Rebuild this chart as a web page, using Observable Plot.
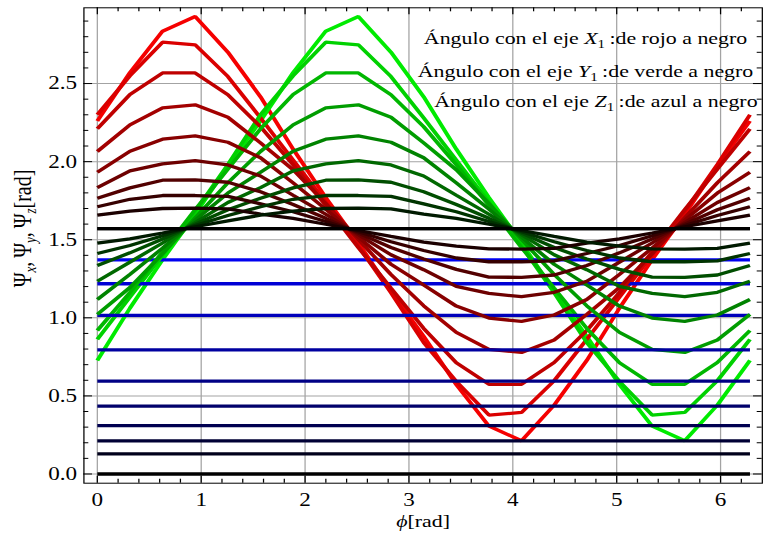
<!DOCTYPE html>
<html><head><meta charset="utf-8">
<script src="https://cdn.jsdelivr.net/npm/d3@7"></script>
<script src="https://cdn.jsdelivr.net/npm/@observablehq/plot@0.6"></script>
<style>body{margin:0;background:#fff}#chart{width:765px;height:539px;overflow:hidden}</style>
</head><body><div id="chart"></div>
<script>
// x samples (phi in rad)
const phi = [0, 0.314, 0.628, 0.942, 1.257, 1.571, 1.885, 2.199, 2.513, 2.827, 3.142, 3.456, 3.770, 4.084, 4.398, 4.712, 5.027, 5.341, 5.655, 5.969, 6.283];

// angle with X axis (red -> black)
const psiX0 = [2.26, 2.57, 2.835, 2.929, 2.701, 2.415, 2.08, 1.77, 1.48, 1.17, 0.882, 0.572, 0.307, 0.213, 0.441, 0.727, 1.062, 1.372, 1.662, 1.972, 2.26];
const psiX1 = [2.30, 2.55, 2.765, 2.748, 2.545, 2.28, 2.01, 1.74, 1.46, 1.16, 0.842, 0.592, 0.377, 0.394, 0.597, 0.862, 1.132, 1.402, 1.682, 1.982, 2.30];
const psiX2 = [2.21, 2.43, 2.568, 2.568, 2.428, 2.223, 1.98, 1.72, 1.45, 1.19, 0.932, 0.712, 0.574, 0.574, 0.714, 0.919, 1.162, 1.422, 1.692, 1.952, 2.21];
const psiX3 = [2.065, 2.235, 2.344, 2.364, 2.284, 2.12, 1.948, 1.732, 1.501, 1.277, 1.077, 0.907, 0.798, 0.778, 0.858, 1.022, 1.194, 1.41, 1.641, 1.865, 2.065];
const psiX4 = [1.932, 2.067, 2.144, 2.165, 2.124, 2.025, 1.864, 1.696, 1.517, 1.343, 1.21, 1.075, 0.998, 0.977, 1.018, 1.117, 1.278, 1.446, 1.625, 1.799, 1.932];
const psiX5 = [1.834, 1.941, 1.986, 2.007, 1.979, 1.908, 1.785, 1.663, 1.532, 1.404, 1.308, 1.201, 1.156, 1.135, 1.163, 1.234, 1.357, 1.479, 1.61, 1.738, 1.834];
const psiX6 = [1.766, 1.832, 1.881, 1.883, 1.868, 1.807, 1.726, 1.637, 1.542, 1.45, 1.376, 1.31, 1.261, 1.259, 1.274, 1.335, 1.416, 1.505, 1.60, 1.692, 1.766];
const psiX7 = [1.711, 1.759, 1.783, 1.783, 1.777, 1.73, 1.679, 1.617, 1.551, 1.487, 1.431, 1.383, 1.359, 1.359, 1.365, 1.412, 1.463, 1.525, 1.591, 1.655, 1.711];
const psiX8 = [1.657, 1.683, 1.70, 1.702, 1.698, 1.664, 1.636, 1.599, 1.559, 1.521, 1.485, 1.459, 1.442, 1.44, 1.444, 1.478, 1.506, 1.543, 1.583, 1.621, 1.657];
const psiX9 = [1.571, 1.571, 1.571, 1.571, 1.571, 1.571, 1.571, 1.571, 1.571, 1.571, 1.571, 1.571, 1.571, 1.571, 1.571, 1.571, 1.571, 1.571, 1.571, 1.571, 1.571];

// angle with Y axis (green -> black)
const psiY0 = [0.727, 1.062, 1.372, 1.662, 1.972, 2.26, 2.57, 2.835, 2.929, 2.701, 2.415, 2.08, 1.77, 1.48, 1.17, 0.882, 0.572, 0.307, 0.213, 0.441, 0.727];
const psiY1 = [0.862, 1.132, 1.402, 1.682, 1.982, 2.30, 2.55, 2.765, 2.748, 2.545, 2.28, 2.01, 1.74, 1.46, 1.16, 0.842, 0.592, 0.377, 0.394, 0.597, 0.862];
const psiY2 = [0.919, 1.162, 1.422, 1.692, 1.952, 2.21, 2.43, 2.568, 2.568, 2.428, 2.223, 1.98, 1.72, 1.45, 1.19, 0.932, 0.712, 0.574, 0.574, 0.714, 0.919];
const psiY3 = [1.022, 1.194, 1.41, 1.641, 1.865, 2.065, 2.235, 2.344, 2.364, 2.284, 2.12, 1.948, 1.732, 1.501, 1.277, 1.077, 0.907, 0.798, 0.778, 0.858, 1.022];
const psiY4 = [1.117, 1.278, 1.446, 1.625, 1.799, 1.932, 2.067, 2.144, 2.165, 2.124, 2.025, 1.864, 1.696, 1.517, 1.343, 1.21, 1.075, 0.998, 0.977, 1.018, 1.117];
const psiY5 = [1.234, 1.357, 1.479, 1.61, 1.738, 1.834, 1.941, 1.986, 2.007, 1.979, 1.908, 1.785, 1.663, 1.532, 1.404, 1.308, 1.201, 1.156, 1.135, 1.163, 1.234];
const psiY6 = [1.335, 1.416, 1.505, 1.60, 1.692, 1.766, 1.832, 1.881, 1.883, 1.868, 1.807, 1.726, 1.637, 1.542, 1.45, 1.376, 1.31, 1.261, 1.259, 1.274, 1.335];
const psiY7 = [1.412, 1.463, 1.525, 1.591, 1.655, 1.711, 1.759, 1.783, 1.783, 1.777, 1.73, 1.679, 1.617, 1.551, 1.487, 1.431, 1.383, 1.359, 1.359, 1.365, 1.412];
const psiY8 = [1.478, 1.506, 1.543, 1.583, 1.621, 1.657, 1.683, 1.70, 1.702, 1.698, 1.664, 1.636, 1.599, 1.559, 1.521, 1.485, 1.459, 1.442, 1.44, 1.444, 1.478];
const psiY9 = [1.571, 1.571, 1.571, 1.571, 1.571, 1.571, 1.571, 1.571, 1.571, 1.571, 1.571, 1.571, 1.571, 1.571, 1.571, 1.571, 1.571, 1.571, 1.571, 1.571, 1.571];

// angle with Z axis (blue -> black), constant levels
const psiZ = [1.371, 1.218, 1.015, 0.795, 0.594, 0.434, 0.310, 0.212, 0.129, 0.0];

// ticks
const xMajor = [0, 1, 2, 3, 4, 5, 6];
const xMinor = [0.2, 0.4, 0.6, 0.8, 1.2, 1.4, 1.6, 1.8, 2.2, 2.4, 2.6, 2.8, 3.2, 3.4, 3.6, 3.8, 4.2, 4.4, 4.6, 4.8, 5.2, 5.4, 5.6, 5.8, 6.2];
const yMajor = [0, 0.5, 1.0, 1.5, 2.0, 2.5];
const yMinor = [0.1, 0.2, 0.3, 0.4, 0.6, 0.7, 0.8, 0.9, 1.1, 1.2, 1.3, 1.4, 1.6, 1.7, 1.8, 1.9, 2.1, 2.2, 2.3, 2.4, 2.6, 2.7, 2.8, 2.9];

// texts
const legendLines = [
  ["Ángulo con el eje ", "X", "1", "\u2009:de rojo a negro"],
  ["Ángulo con el eje ", "Y", "1", "\u2009:de verde a negro"],
  ["Ángulo con el eje ", "Z", "1", "\u2009:de azul a negro"]
];
const xTitle = ["ϕ", "[rad]"];
const yTitle = [["Ψ", ""], ["x", "sub"], [",\u2009Ψ", ""], ["y", "sub"], [",\u2009Ψ", ""], ["z", "sub"], ["[rad]", ""]];

const redSeries = [psiX0, psiX1, psiX2, psiX3, psiX4, psiX5, psiX6, psiX7, psiX8, psiX9];
const greenSeries = [psiY0, psiY1, psiY2, psiY3, psiY4, psiY5, psiY6, psiY7, psiY8, psiY9];

const nK = redSeries.length;
const shade = (k, max) => Math.round(max * (1 - k / (nK - 1)));
const rows = [];
for (let k = 0; k < nK; k++) {
  redSeries[k].forEach((v, i) => rows.push({phi: phi[i], v, s: "x" + k, c: `rgb(${shade(k, 245)},0,0)`}));
  greenSeries[k].forEach((v, i) => rows.push({phi: phi[i], v, s: "y" + k, c: `rgb(0,${shade(k, 235)},0)`}));
  phi.forEach(p => rows.push({phi: p, v: psiZ[k], s: "z" + k, c: `rgb(0,0,${shade(k, 240)})`}));
}

const S = 1.25;             // horizontal stretch of the original picture
const W = 765 / S;
const ML = 83.3 / S, MR = (765 - 761.7) / S, MT = 7.3, MB = 539 - 482.7;
const FW = W - ML - MR, FH = 539 - MT - MB;
const TMAJ = 7, TMIN = 4;
const gridStyle = {stroke: "#a3a3a3", strokeOpacity: 1, strokeWidth: 1};

const legendStrings = legendLines.map(d => d.join(""));
const xTitleString = xTitle.join("");
const yTitleString = yTitle.map(d => d[0]).join("");

const plot = Plot.plot({
  width: W, height: 539,
  marginLeft: ML, marginRight: MR, marginTop: MT, marginBottom: MB,
  style: {fontFamily: "'Liberation Serif', 'Times New Roman', serif", fontSize: "18.5px", background: "white", color: "black"},
  x: {domain: [-0.129, 6.402]},
  y: {domain: [-0.059, 2.985]},
  color: {type: "identity"},
  marks: [
    Plot.gridX(xMajor, gridStyle),
    Plot.gridY(yMajor, gridStyle),
    Plot.line(rows, {x: "phi", y: "v", z: "s", stroke: "c", strokeWidth: 3.3, strokeLinejoin: "miter", strokeLinecap: "butt"}),
    Plot.frame({stroke: "black", strokeWidth: 1}),
    // inward ticks on all four sides
    Plot.ruleX(xMajor, {insetTop: FH - TMAJ, stroke: "black"}),
    Plot.ruleX(xMinor, {insetTop: FH - TMIN, stroke: "black"}),
    Plot.ruleX(xMajor, {insetBottom: FH - TMAJ, stroke: "black"}),
    Plot.ruleX(xMinor, {insetBottom: FH - TMIN, stroke: "black"}),
    Plot.ruleY(yMajor, {insetRight: FW - TMAJ, stroke: "black"}),
    Plot.ruleY(yMinor, {insetRight: FW - TMIN, stroke: "black"}),
    Plot.ruleY(yMajor, {insetLeft: FW - TMAJ, stroke: "black"}),
    Plot.ruleY(yMinor, {insetLeft: FW - TMIN, stroke: "black"}),
    Plot.axisX({ticks: xMajor, tickSize: 0, tickPadding: 9.5, tickFormat: d => String(d), label: null, fill: "black"}),
    Plot.axisY({ticks: yMajor, tickSize: 0, tickPadding: 5.5, tickFormat: d3.format(".1f"), label: null, fill: "black"}),
    Plot.text([legendStrings[0]], {x: 4.70, y: 2.79, textAnchor: "middle", lineAnchor: "middle", fontSize: 17.5, fill: "black"}),
    Plot.text([legendStrings[1]], {x: 4.70, y: 2.58, textAnchor: "middle", lineAnchor: "middle", fontSize: 17.5, fill: "black"}),
    Plot.text([legendStrings[2]], {x: 4.80, y: 2.387, textAnchor: "middle", lineAnchor: "middle", fontSize: 17.5, fill: "black"}),
    Plot.text([xTitleString], {frameAnchor: "bottom", dy: 38.5, textAnchor: "middle", lineAnchor: "middle", fontSize: 17.5, fill: "black"}),
    Plot.text([yTitleString], {frameAnchor: "left", dx: 17.6 - ML, dy: -17, rotate: -90, textAnchor: "middle", lineAnchor: "middle", fontSize: 20, fill: "black"})
  ]
});

// stretch horizontally like the original picture
plot.setAttribute("width", 765);
plot.setAttribute("preserveAspectRatio", "none");
plot.style.width = "765px";
plot.style.height = "539px";
plot.style.maxWidth = "none";

// rich text: italics and subscripts
d3.select(plot).selectAll("text").each(function() {
  const t = d3.select(this);
  const content = this.textContent;
  const li = legendStrings.indexOf(content);
  if (li >= 0) {
    const segs = legendLines[li];
    t.text(null);
    t.append("tspan").text(segs[0]);
    t.append("tspan").attr("font-style", "italic").text(segs[1]);
    t.append("tspan").attr("font-size", "12px").attr("dy", "4").text(segs[2]);
    t.append("tspan").attr("dy", "-4").text(segs[3]);
  } else if (content === xTitleString) {
    t.text(null);
    t.append("tspan").attr("font-style", "italic").text(xTitle[0]);
    t.append("tspan").text(xTitle[1]);
  } else if (content === yTitleString) {
    t.text(null);
    let prevSub = false;
    yTitle.forEach(([s, kind]) => {
      const ts = t.append("tspan").text(s);
      if (kind === "sub") { ts.attr("font-style", "italic").attr("font-size", "13px").attr("dy", "4"); prevSub = true; }
      else if (prevSub) { ts.attr("dy", "-4"); prevSub = false; }
    });
  }
});

document.getElementById("chart").appendChild(plot);
</script>
</body></html>
